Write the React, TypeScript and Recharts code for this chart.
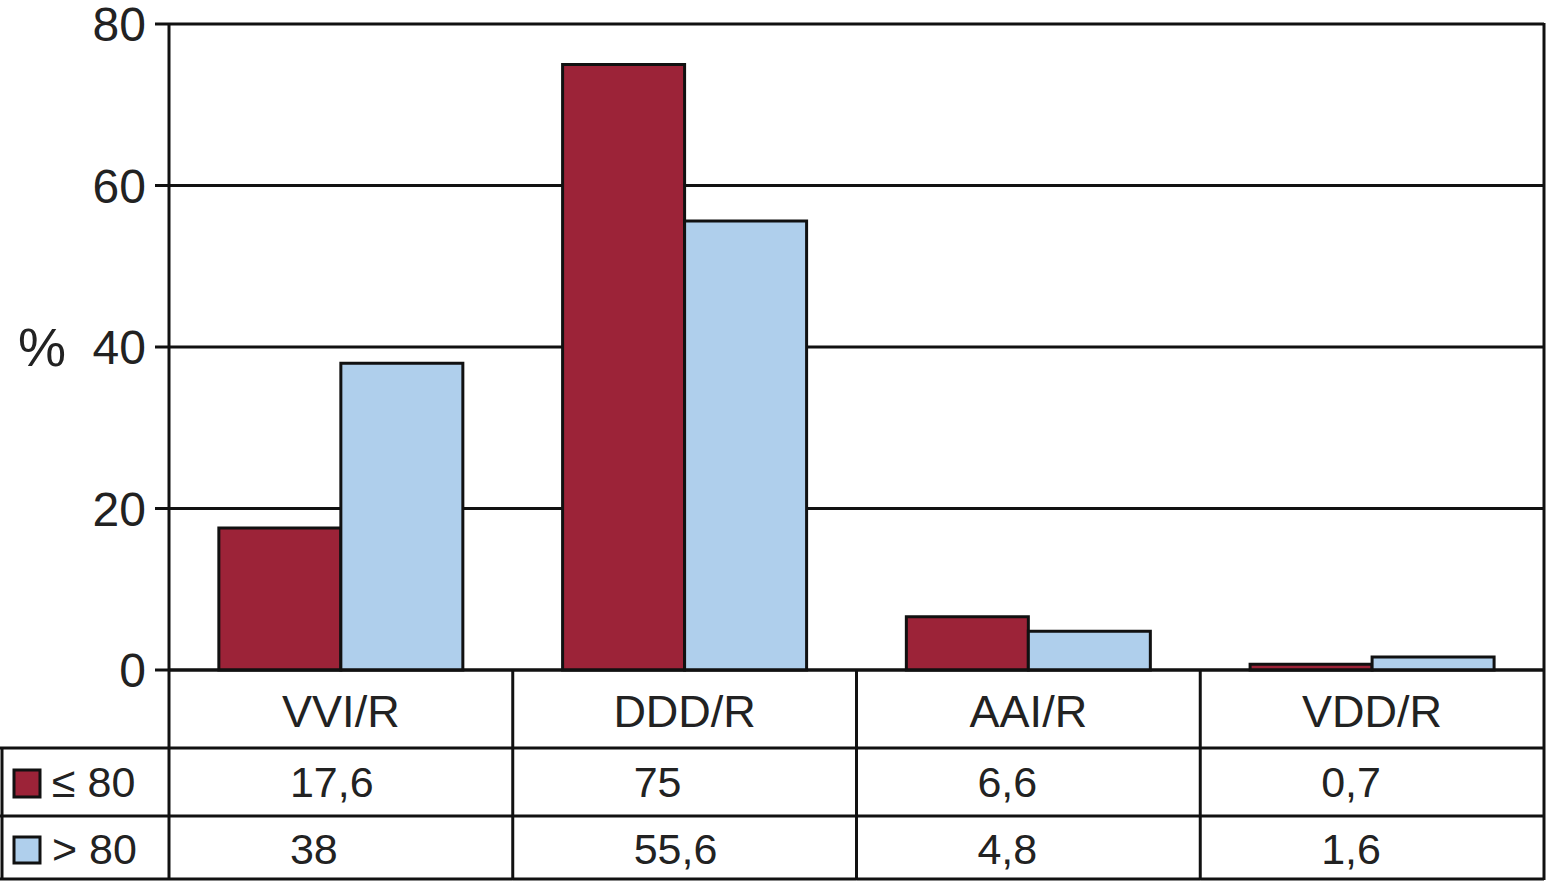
import React from "react";
import { BarChart, Bar, XAxis, YAxis, CartesianGrid } from "recharts";

// pacemaker mode by age group (%)
const categories = ["VVI/R", "DDD/R", "AAI/R", "VDD/R"];
const upTo80 = [17.6, 75, 6.6, 0.7];
const over80 = [38, 55.6, 4.8, 1.6];
const seriesLabels = ["≤ 80", "> 80"];
const yTicks = [0, 20, 40, 60, 80];

const RED = "#9c2338";
const BLUE = "#afcfec";
const INK = "#111";
const FONT = "'Liberation Sans', Arial, Helvetica, sans-serif";

const W = 1547;
const H = 882;
const PLOT_LEFT = 169;
const PLOT_RIGHT = 1544;
const PLOT_TOP = 24;
const PLOT_BOTTOM = 670;
const ROW1 = 748;
const ROW2 = 816;
const TABLE_BOTTOM = 879;

const fmt = (v: number) => String(v).replace(".", ",");

const chartData = categories.map((name, i) => ({
  name,
  le80: upTo80[i],
  gt80: over80[i],
}));

const TableTick = (props: any) => {
  const { x, payload, index } = props;
  const bw = (PLOT_RIGHT - PLOT_LEFT) / categories.length;
  const left = x - bw / 2;
  const right = x + bw / 2;
  const i = categories.indexOf(payload.value);
  const isLast = index === categories.length - 1;
  return (
    <g style={{ fontFamily: FONT }}>
      {/* column separator */}
      <line x1={left} x2={left} y1={PLOT_BOTTOM} y2={TABLE_BOTTOM + 1} stroke={INK} strokeWidth={3} />
      {isLast && (
        <line x1={right} x2={right} y1={PLOT_TOP - 1} y2={TABLE_BOTTOM + 1} stroke={INK} strokeWidth={3} />
      )}
      <line x1={left} x2={right} y1={ROW1} y2={ROW1} stroke={INK} strokeWidth={3} />
      <line x1={left} x2={right} y1={ROW2} y2={ROW2} stroke={INK} strokeWidth={3} />
      <line x1={left} x2={right} y1={TABLE_BOTTOM} y2={TABLE_BOTTOM} stroke={INK} strokeWidth={3} />
      <text x={x} y={727} textAnchor="middle" fontSize={45} fill="#222">
        {payload.value}
      </text>
      <text x={x - 51} y={797} textAnchor="start" fontSize={43} fill="#222">
        {fmt(upTo80[i])}
      </text>
      <text x={x - 51} y={864} textAnchor="start" fontSize={43} fill="#222">
        {fmt(over80[i])}
      </text>
      {index === 0 && (
        <g>
          {/* legend column on the left of the table */}
          <line x1={0} x2={left} y1={ROW1} y2={ROW1} stroke={INK} strokeWidth={3} />
          <line x1={0} x2={left} y1={ROW2} y2={ROW2} stroke={INK} strokeWidth={3} />
          <line x1={0} x2={left} y1={TABLE_BOTTOM} y2={TABLE_BOTTOM} stroke={INK} strokeWidth={3} />
          <line x1={2} x2={2} y1={ROW1} y2={TABLE_BOTTOM + 1} stroke={INK} strokeWidth={3} />
          <rect x={14} y={770} width={26} height={27} fill={RED} stroke={INK} strokeWidth={3} />
          <text x={52} y={797} fontSize={43} fill="#222">
            {seriesLabels[0]}
          </text>
          <rect x={14} y={837} width={26} height={26} fill={BLUE} stroke={INK} strokeWidth={3} />
          <text x={52} y={864} fontSize={43} fill="#222">
            {seriesLabels[1]}
          </text>
        </g>
      )}
    </g>
  );
};

export default function App() {
  return (
    <div style={{ position: "absolute", left: 0, top: 0, width: W, height: H, background: "#fff" }}>
      <BarChart
        width={W}
        height={H}
        data={chartData}
        margin={{ top: PLOT_TOP, right: W - PLOT_RIGHT, left: 0, bottom: 0 }}
        barCategoryGap="14.5%"
        barGap={0}
      >
        <CartesianGrid vertical={false} stroke={INK} strokeWidth={3} strokeOpacity={1} />
        <XAxis
          dataKey="name"
          height={H - PLOT_BOTTOM}
          axisLine={{ stroke: INK, strokeWidth: 3 }}
          tickLine={false}
          tick={<TableTick />}
          interval={0}
        />
        <YAxis
          width={PLOT_LEFT}
          domain={[0, 80]}
          ticks={yTicks}
          interval={0}
          axisLine={{ stroke: INK, strokeWidth: 3 }}
          tickLine={{ stroke: INK, strokeWidth: 3 }}
          tickSize={14}
          tickMargin={9}
          tick={{ fontSize: 48, fill: "#222", fontFamily: FONT }}
          label={{ value: "%", position: "insideLeft", offset: 18, fontSize: 54, fill: "#222", fontFamily: FONT }}
        />
        <Bar dataKey="le80" fill={RED} stroke={INK} strokeWidth={3} isAnimationActive={false} />
        <Bar dataKey="gt80" fill={BLUE} stroke={INK} strokeWidth={3} isAnimationActive={false} />
      </BarChart>
    </div>
  );
}
